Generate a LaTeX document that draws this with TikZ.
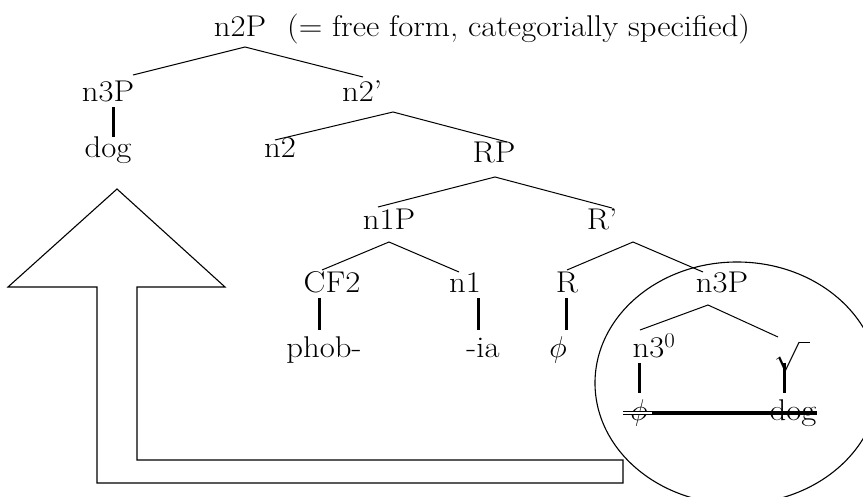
\RequirePackage{fix-cm}
\documentclass[tikz,border=0pt]{standalone}
\begin{document}
\begin{tikzpicture}[x=1pt,y=-1pt,
  lbl/.style={anchor=base,inner sep=0pt,font=\fontsize{30}{36}\selectfont},
  branch/.style={line width=1pt},
  bar/.style={line width=3pt},
  outline/.style={line width=1.1pt}]
\newcommand{\wide}[1]{\scalebox{1.09}[1]{#1}}
\useasboundingbox (0,0) rectangle (863,497);
% big arrow
\draw[outline,line join=miter] (97,483) -- (623,483) -- (623,460) -- (137,460) -- (137,287) -- (225,287) -- (117,189) -- (8,287) -- (97,287) -- cycle;
% ellipse
\draw[outline] (737,383) ellipse [x radius=142, y radius=121];
% labels
\node[lbl] (n2P) at (240,37) {\wide{n2P}};
\node[lbl,anchor=base west] (gloss) at (287,37) {\wide{(= free form, categorially specified)}};
\node[lbl] (n3Pa) at (108,102) {\wide{n3P}};
\node[lbl] (n2bar) at (362,102) {\wide{n2’}};
\node[lbl] (dog1) at (108,158) {\wide{dog}};
\node[lbl] (n2) at (280,158) {\wide{n2}};
\node[lbl] (RP) at (494,163) {\wide{RP}};
\node[lbl] (n1P) at (389,230) {\wide{n1P}};
\node[lbl] (Rbar) at (602,230) {\wide{R’}};
\node[lbl] (CF2) at (332,293) {\wide{CF2}};
\node[lbl] (n1) at (465,293) {\wide{n1}};
\node[lbl] (R) at (567,293) {\wide{R}};
\node[lbl] (n3Pb) at (722,293) {\wide{n3P}};
\node[lbl] (phob) at (324,358) {\wide{phob-}};
\node[lbl] (ia) at (483,358) {\wide{-ia}};
\node[lbl] (phi1) at (558,358) {$\phi$};
\node[lbl] (n30) at (654,358) {\wide{n3\textsuperscript{0}}};
\node[lbl] (root) at (792,358) {$\sqrt{\hphantom{i}}$};
\node[lbl] (phi2) at (639,420) {$\phi$};
\node[lbl] (dog2) at (793,420) {\wide{dog}};
% branch points
\coordinate (a1) at (245,47);  \coordinate (a1l) at (133,75);  \coordinate (a1r) at (363,77);
\coordinate (a2) at (393,112); \coordinate (a2l) at (275,140); \coordinate (a2r) at (507,142);
\coordinate (a3) at (495,177); \coordinate (a3l) at (378,207); \coordinate (a3r) at (612,208);
\coordinate (a4) at (389,242); \coordinate (a4l) at (322,270); \coordinate (a4r) at (459,272);
\coordinate (a5) at (633,242); \coordinate (a5l) at (567,270); \coordinate (a5r) at (703,272);
\coordinate (a6) at (708,305); \coordinate (a6l) at (640,330); \coordinate (a6r) at (778,337);
\draw[branch] (a1l) -- (a1) -- (a1r);
\draw[branch] (a2l) -- (a2) -- (a2r);
\draw[branch] (a3l) -- (a3) -- (a3r);
\draw[branch] (a4l) -- (a4) -- (a4r);
\draw[branch] (a5l) -- (a5) -- (a5r);
\draw[branch] (a6l) -- (a6) -- (a6r);
% vertical bars
\coordinate (b1t) at (113,107); \coordinate (b1b) at (113,137);
\coordinate (b2t) at (319,298); \coordinate (b2b) at (319,330);
\coordinate (b3t) at (478,298); \coordinate (b3b) at (478,330);
\coordinate (b4t) at (566,298); \coordinate (b4b) at (566,330);
\coordinate (b5t) at (639,363); \coordinate (b5b) at (639,393);
\coordinate (b6t) at (784,363); \coordinate (b6b) at (784,393);
\foreach \i in {1,...,6} \draw[bar] (b\i t) -- (b\i b);
% strike-through
\coordinate (s0) at (623,413); \coordinate (s1) at (652,413); \coordinate (s2) at (817,413);
\draw[double=white,double distance=2pt,line width=1pt] (s0) -- (s1);
\draw[line width=4pt] (s1) -- (s2);
\end{tikzpicture}
\end{document}
